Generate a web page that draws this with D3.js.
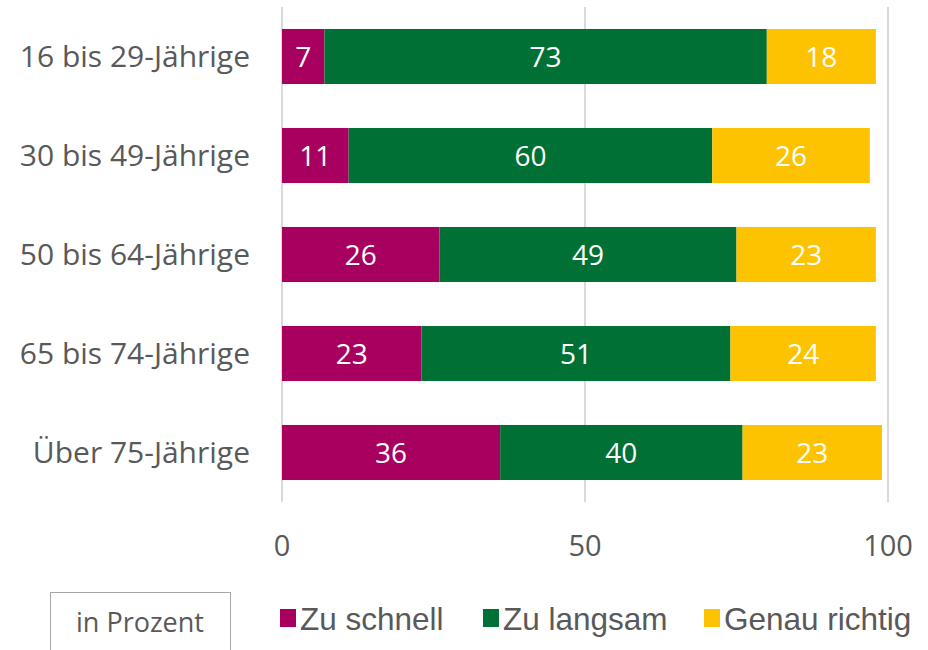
<html>
<head>
<meta charset="utf-8">
<script src="https://d3js.org/d3.v7.min.js"></script>
<style>
  body { margin: 0; background: #fff; }
  text { font-family: "Open Sans", sans-serif; }
</style>
</head>
<body>
<div id="chart"></div>
<script>
// data
var groups = ["16 bis 29-Jährige", "30 bis 49-Jährige", "50 bis 64-Jährige", "65 bis 74-Jährige", "Über 75-Jährige"];
var zuSchnell = [7, 11, 26, 23, 36];
var zuLangsam = [73, 60, 49, 51, 40];
var genauRichtig = [18, 26, 23, 24, 23];
var seriesNames = ["Zu schnell", "Zu langsam", "Genau richtig"];
var colors = ["#A8005F", "#007034", "#FDC300"];
var xTicks = [0, 50, 100];

var width = 928, height = 650;

var svg = d3.select("#chart").append("svg")
    .attr("width", width)
    .attr("height", height);

var x = d3.scaleLinear().domain([0, 100]).range([282, 888]);
var y = d3.scaleBand().domain(groups).range([7, 502])
    .paddingInner(0.444).paddingOuter(0.222);

// gridlines
svg.append("g").selectAll("line")
    .data(xTicks)
    .enter().append("line")
    .attr("x1", d => x(d)).attr("x2", d => x(d))
    .attr("y1", 7).attr("y2", 502)
    .attr("stroke", "#d9d9d9")
    .attr("stroke-width", 2);

// tick labels
svg.append("g").selectAll("text")
    .data(xTicks)
    .enter().append("text")
    .attr("x", d => x(d))
    .attr("y", 556)
    .attr("text-anchor", "middle")
    .attr("font-size", 29)
    .attr("fill", "#595959")
    .text(d => d);

// category labels
svg.append("g").selectAll("text")
    .data(groups)
    .enter().append("text")
    .attr("x", 250)
    .attr("y", d => y(d) + y.bandwidth() / 2 + 10)
    .attr("text-anchor", "end")
    .attr("font-size", 30)
    .attr("fill", "#595959")
    .text(d => d);

// stacked segments
var rows = groups.map(function(g, i) {
    return { group: g, vals: [zuSchnell[i], zuLangsam[i], genauRichtig[i]] };
});

rows.forEach(function(r) {
    var start = 0;
    r.vals.forEach(function(v, k) {
        svg.append("rect")
            .attr("x", x(start))
            .attr("y", y(r.group))
            .attr("width", x(start + v) - x(start))
            .attr("height", y.bandwidth())
            .attr("fill", colors[k]);
        svg.append("text")
            .attr("x", x(start + v / 2))
            .attr("y", y(r.group) + y.bandwidth() / 2 + 10)
            .attr("text-anchor", "middle")
            .attr("font-size", 28)
            .attr("fill", "#fff")
            .text(v);
        start += v;
    });
});

// "in Prozent" box
svg.append("rect")
    .attr("x", 50.5).attr("y", 592.5)
    .attr("width", 180).attr("height", 70)
    .attr("fill", "none")
    .attr("stroke", "#a6a6a6")
    .attr("stroke-width", 1);
svg.append("text")
    .attr("x", 140).attr("y", 632)
    .attr("text-anchor", "middle")
    .attr("font-size", 27)
    .attr("fill", "#595959")
    .text("in Prozent");

// legend
var legendX = [280, 483, 704];
var leg = svg.append("g").selectAll("g")
    .data(seriesNames)
    .enter().append("g")
    .attr("transform", (d, i) => "translate(" + legendX[i] + ",0)");
leg.append("rect")
    .attr("x", 0).attr("y", 609)
    .attr("width", 16).attr("height", 18)
    .attr("fill", (d, i) => colors[i]);
leg.append("text")
    .attr("x", 20).attr("y", 630)
    .attr("font-size", 31.5)
    .attr("fill", "#595959")
    .style("font-family", "'Liberation Sans', Arial, sans-serif")
    .text(d => d);
</script>
</body>
</html>
